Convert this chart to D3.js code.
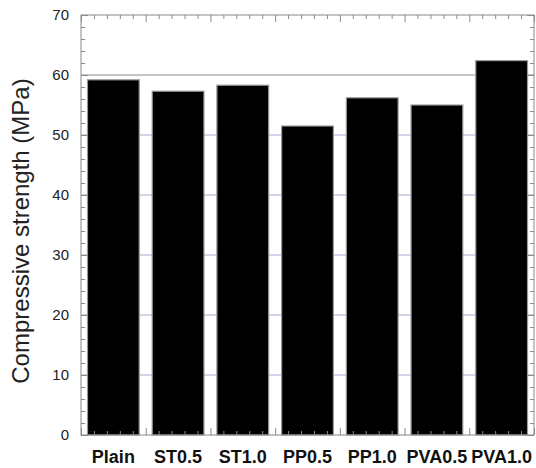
<!DOCTYPE html>
<html lang="en">
<head>
<meta charset="UTF-8">
<title>Compressive strength</title>
<script src="https://d3js.org/d3.v7.min.js"></script>
<style>
  body { margin: 0; background: #fff; font-family: "Liberation Sans", Arial, sans-serif; }
  .axis path { display: none; }
  .axis line { stroke: #8a8a8a; }
  .axis text { font-size: 15px; fill: #222; }
</style>
</head>
<body>
<div id="chart"></div>
<script>
// data
const mixes = ["Plain", "ST0.5", "ST1.0", "PP0.5", "PP1.0", "PVA0.5", "PVA1.0"];
const strength = [59.2, 57.3, 58.3, 51.5, 56.2, 55.0, 62.4];
const yTicks = [0, 10, 20, 30, 40, 50, 60, 70];

const W = 536, H = 468;
const margin = {top: 15, right: 2, bottom: 33, left: 81};
const width = W - margin.left - margin.right,
      height = H - margin.top - margin.bottom;

const svg = d3.select("#chart").append("svg")
  .attr("width", W).attr("height", H);
const g = svg.append("g").attr("transform", `translate(${margin.left},${margin.top})`);

const x = d3.scaleBand().domain(mixes).range([0, width]).paddingInner(0.2).paddingOuter(0.1);
// linear helper for the frame ticks (one unit per category)
const xl = d3.scaleLinear().domain([0, mixes.length]).range([0, width]);
const y = d3.scaleLinear().domain([0, 70]).range([height, 0]);

// grid lines
g.append("g").selectAll("line")
  .data(yTicks.filter(v => v > 0 && v < 70))
  .join("line")
  .attr("x1", 0).attr("x2", width)
  .attr("y1", d => y(d)).attr("y2", d => y(d))
  .attr("stroke", d => d === 60 ? "#8c8c8c" : "#a8a8d4")
  .attr("stroke-width", 1);

// bars
g.append("g").selectAll("rect")
  .data(mixes)
  .join("rect")
  .attr("x", d => x(d))
  .attr("width", x.bandwidth())
  .attr("y", (d, i) => y(strength[i]))
  .attr("height", (d, i) => y(0) - y(strength[i]))
  .attr("fill", "#000")
  .attr("stroke", "#9a9a9a")
  .attr("stroke-width", 1.2);

// minor/major frame ticks (inward)
const minorY = d3.range(0, 70.1, 2).filter(v => v % 10 !== 0);
const minorX = d3.range(0, mixes.length + 0.01, 0.2).filter(v => Math.abs(v - Math.round(v)) > 0.01);
const majorX = d3.range(0, mixes.length + 1);

g.append("g").attr("class", "axis")
  .call(d3.axisLeft(y).tickValues(minorY).tickSize(-4).tickFormat(""));
g.append("g").attr("class", "axis")
  .call(d3.axisLeft(y).tickValues(yTicks).tickSize(-7).tickPadding(12));
g.append("g").attr("class", "axis").attr("transform", `translate(${width},0)`)
  .call(d3.axisRight(y).tickValues(minorY).tickSize(-4).tickFormat(""));
g.append("g").attr("class", "axis").attr("transform", `translate(${width},0)`)
  .call(d3.axisRight(y).tickValues(yTicks).tickSize(-7).tickFormat(""));

g.append("g").attr("class", "axis")
  .call(d3.axisTop(xl).tickValues(minorX).tickSize(-4).tickFormat(""));
g.append("g").attr("class", "axis")
  .call(d3.axisTop(xl).tickValues(majorX).tickSize(-7).tickFormat(""));
g.append("g").attr("class", "axis").attr("transform", `translate(0,${height})`)
  .call(d3.axisBottom(xl).tickValues(minorX).tickSize(-4).tickFormat(""));
g.append("g").attr("class", "axis").attr("transform", `translate(0,${height})`)
  .call(d3.axisBottom(xl).tickValues(majorX).tickSize(-7).tickFormat(""));

// category labels
g.append("g").attr("class", "axis").attr("transform", `translate(0,${height})`)
  .call(d3.axisBottom(x).tickSize(0))
  .selectAll("text")
  .attr("y", 28).attr("dy", 0)
  .style("font-weight", "bold")
  .style("font-size", "18px")
  .style("fill", "#111");

// frame
g.append("rect")
  .attr("width", width).attr("height", height)
  .attr("fill", "none").attr("stroke", "#8a8a8a");

// y axis title
svg.append("text")
  .attr("transform", "translate(29,231) rotate(-90)")
  .attr("text-anchor", "middle")
  .style("font-size", "24px")
  .style("fill", "#222")
  .text("Compressive strength (MPa)");
</script>
</body>
</html>
